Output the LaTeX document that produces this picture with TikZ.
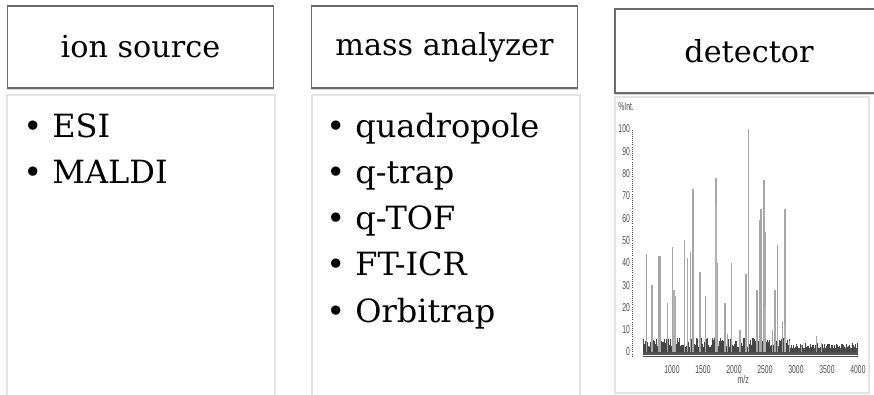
\documentclass[tikz,border=0pt]{standalone}
\usepackage{fontspec}
\setmainfont{DejaVu Serif}
\setsansfont{Liberation Sans}
\usetikzlibrary{shadows}

\tikzset{
  header/.style={draw=gray!85!black, line width=0.8pt, fill=white,
    minimum width=200pt, minimum height=61.5pt, inner sep=0pt,
    font=\fontsize{22.7}{26}\selectfont,
    drop shadow={shadow xshift=0pt, shadow yshift=-1.5pt, opacity=0.35}},
  body/.style={draw=gray!22, line width=0.8pt},
  item/.style={anchor=base west, inner sep=0pt, font=\fontsize{24}{28}\selectfont},
  peak/.style={draw=gray!70, line width=0.9pt},
  axislab/.style={font=\sffamily\fontsize{8.5}{8.5}\selectfont, text=gray!60!black, xscale=0.6, inner sep=1pt}
}

\begin{document}
\begin{tikzpicture}[x=0.75pt, y=-0.75pt]
   \useasboundingbox (0,0) rectangle (874,395);

   % Spalten
   \draw[body] (7,95) rectangle (275,402);
   \draw[body] (312,95) rectangle (580,402);
   \draw[body] (615,97) rectangle (869,393);

   % Kopfzeilen
   \node[header] (source)   at (140.5,47) {ion source};
   \node[header] (analyzer) at (444.5,47) {mass analyzer};
   \node[header, minimum width=201pt, minimum height=63pt] (detector) at (749,51) {detector};

   % Listen
   \foreach \txt [count=\k] in {ESI, MALDI}
     \node[item] (src-\k) at (23,138+46*\k-46) {• \txt};
   \foreach \txt [count=\k] in {quadropole, q-trap, q-TOF, FT-ICR, Orbitrap}
     \node[item] (ana-\k) at (326,138+46*\k-46) {• \txt};

   % Spektrum
   \begin{scope}[shift={(610,352)}, x=0.0465pt, y=1.6725pt]
     \fill[gray!65!black] (530,-1.5) rectangle (4000,2);
     \pgfmathsetseed{17}
     \foreach \m in {535,550,...,2900} {
       \pgfmathsetmacro\h{2+4.5*rnd}
       \draw[gray!55!black, line width=0.5pt] (\m,0) -- (\m,\h);
     }
     \foreach \m in {2905,2925,...,3990} {
       \pgfmathsetmacro\h{1.5+2.5*rnd}
       \draw[gray!55!black, line width=0.5pt] (\m,0) -- (\m,\h);
     }
     \foreach \m/\i in {592/44, 677/30, 790/43, 818/43, 931/22, 1005/47, 1032/28,
         1053/25, 1198/50, 1247/42, 1302/45, 1339/73, 1452/36, 1537/25, 1698/78,
         1721/78, 1737/40, 1855/22, 1898/8, 1963/40, 2097/10, 2194/35, 2237/100,
         2371/28, 2408/59, 2435/64, 2484/77, 2500/54, 2618/10, 2661/28, 2698/48,
         2779/14, 2823/64, 2892/5, 3092/3, 3334/7, 3415/4}
       \draw[peak] (\m,0) -- (\m,\i);
     \foreach \m/\i in {1032/28, 1710/66, 2237/14, 2500/20, 2823/12}
       \draw[gray!60, line width=0.8pt] (\m,0) -- (\m,\i);

     % Achsen
     \draw[gray!60!black, line width=0.5pt] (530,-2) -- (4000,-2);
     \draw[gray!60!black, line width=0.6pt, densely dotted] (355,-2) -- (355,100);
     \foreach \v in {0,10,...,100}
       \node[axislab, anchor=east] (ylab\v) at (335,\v) {\v};
     \foreach \m in {1000,1500,...,4000}
       \node[axislab] (xlab\m) at (\m,-8) {\m};
     \node[axislab] (mz) at (2150,-12.5) {m/z};
     \node[axislab] (int) at (260,110) {\%Int.};
   \end{scope}
\end{tikzpicture}
\end{document}
